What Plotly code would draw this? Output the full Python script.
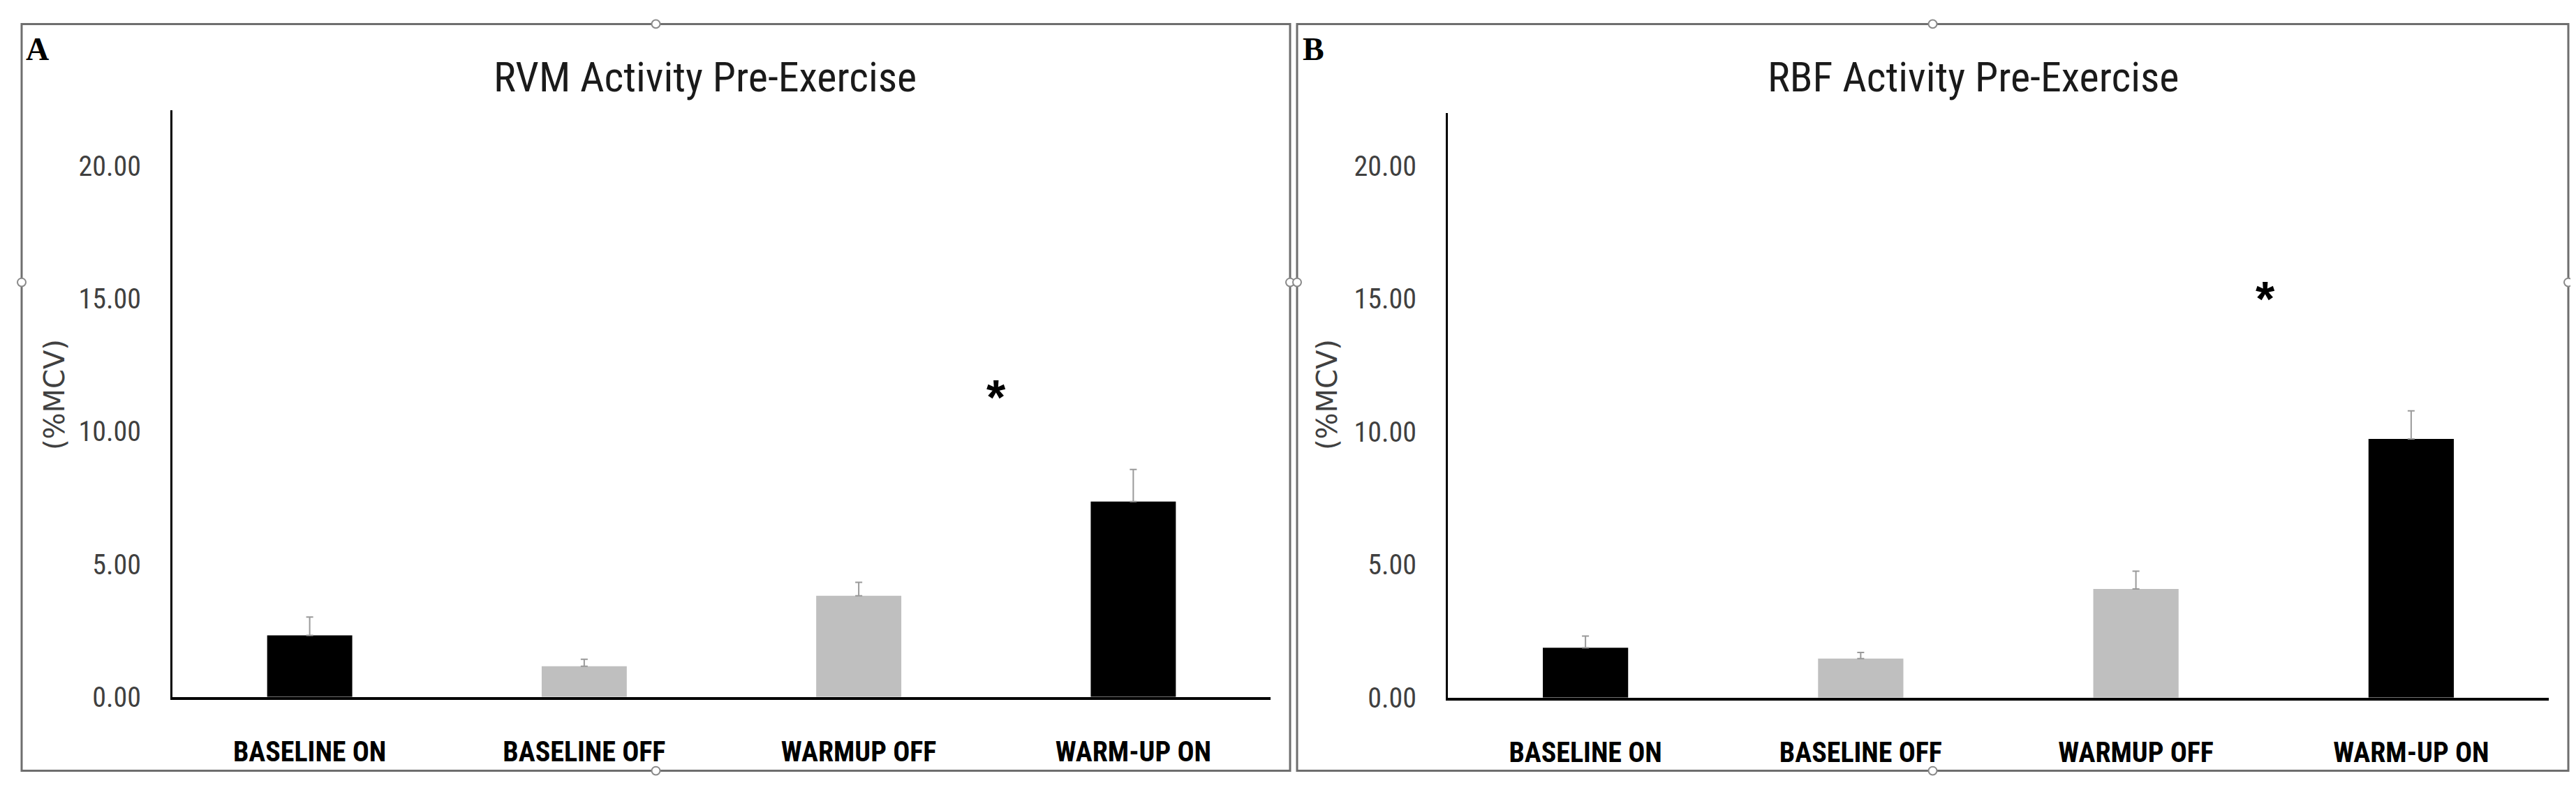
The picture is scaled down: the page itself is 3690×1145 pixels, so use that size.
import plotly.graph_objects as go

# ---- data ----
categories = ["BASELINE ON", "BASELINE OFF", "WARMUP OFF", "WARM-UP ON"]
rvm_means = [2.32, 1.16, 3.81, 7.36]
rvm_err = [0.69, 0.26, 0.51, 1.21]
rbf_means = [1.88, 1.47, 4.09, 9.73]
rbf_err = [0.44, 0.23, 0.67, 1.06]
bar_colors = ["#000000", "#bfbfbf", "#bfbfbf", "#000000"]
y_ticks = [0, 5, 10, 15, 20]
titles = ["RVM Activity Pre-Exercise", "RBF Activity Pre-Exercise"]
panel_letters = ["A", "B"]
y_label = "(%MCV)"
sig_x = [2.5, 2.47]
sig_y = [11.7, 15.4]

W, H = 3690, 1145
NARROW = "Roboto Condensed, Liberation Sans Narrow, DejaVu Sans Condensed, Roboto, sans-serif"

fig = go.Figure()
for i, (means, err) in enumerate([(rvm_means, rvm_err), (rbf_means, rbf_err)]):
    sfx = "" if i == 0 else str(i + 1)
    fig.add_trace(go.Bar(
        x=categories, y=means, width=0.31,
        marker=dict(color=bar_colors, line=dict(width=0)),
        error_y=dict(type="data", array=err, arrayminus=[0] * len(err),
                     symmetric=False, color="#9a9a9a", thickness=2, width=5),
        xaxis="x" + sfx, yaxis="y" + sfx, showlegend=False,
    ))

def px_x(p):
    return p / W

def px_y(p):
    return (H - p) / H

axis_common_x = dict(
    type="category", showline=True, linecolor="#000000", linewidth=4,
    showgrid=False, zeroline=False, ticks="outside", ticklen=40,
    tickcolor="rgba(0,0,0,0)",
    tickfont=dict(family=NARROW, size=40, color="#000000", weight="bold"),
    range=[-0.5, 3.5],
)
axis_common_y = dict(
    showline=True, linecolor="#000000", linewidth=3, showgrid=False,
    zeroline=False, tickvals=y_ticks, tickformat=".2f", ticks="outside",
    ticklen=34, tickcolor="rgba(0,0,0,0)",
    tickfont=dict(family=NARROW, size=40, color="#404040"),
)

fig.update_layout(
    width=W, height=H, margin=dict(l=0, r=0, t=0, b=0),
    paper_bgcolor="white", plot_bgcolor="white",
    xaxis=dict(axis_common_x, domain=[px_x(239), px_x(1812)], anchor="y"),
    yaxis=dict(axis_common_y, domain=[px_y(1012), px_y(153)], range=[0, 22.1], anchor="x"),
    xaxis2=dict(axis_common_x, domain=[px_x(2066), px_x(3643)], anchor="y2"),
    yaxis2=dict(axis_common_y, domain=[px_y(1013), px_y(157)], range=[0, 22.0], anchor="x2"),
)

# panel frames
frames = [(23, 1840), (1850, 3671)]
frame_top, frame_bottom, handle_y = 27, 1120, 405
shapes = []
for (l, r) in frames:
    shapes.append(dict(type="rect", xref="paper", yref="paper", x0=px_x(l), x1=px_x(r),
                       y0=px_y(frame_bottom), y1=px_y(frame_top),
                       line=dict(color="#6e6e6e", width=3)))
for (l, r) in frames:
    mid = (l + r) / 2
    for (hx, hy) in [(mid, frame_top), (mid, frame_bottom), (l, handle_y), (r, handle_y)]:
        shapes.append(dict(type="circle", xref="paper", yref="paper",
                           x0=px_x(hx - 6), x1=px_x(hx + 6), y0=px_y(hy + 6), y1=px_y(hy - 6),
                           fillcolor="white", line=dict(color="#8a8a8a", width=2)))
fig.update_layout(shapes=shapes)

ann = []
title_x = [1002, 2818]
letter_x = [45, 1873]
ylab_x = [70, 1893]
for i in range(2):
    sfx = "" if i == 0 else str(i + 1)
    ann.append(dict(text=titles[i], xref="paper", yref="paper", x=px_x(title_x[i]),
                    y=px_y(105), xanchor="center", yanchor="middle", showarrow=False,
                    font=dict(family=NARROW, size=60, color="#1a1a1a")))
    ann.append(dict(text="<b>" + panel_letters[i] + "</b>", xref="paper", yref="paper",
                    x=px_x(letter_x[i]), y=px_y(64), xanchor="center", yanchor="middle",
                    showarrow=False,
                    font=dict(family="Liberation Serif, DejaVu Serif, serif", size=46, color="#000000")))
    ann.append(dict(text=y_label, xref="paper", yref="paper", x=px_x(ylab_x[i]),
                    y=px_y(570), xanchor="center", yanchor="middle", showarrow=False,
                    textangle=-90,
                    font=dict(family="DejaVu Sans, Verdana, sans-serif", size=40, color="#404040")))
    ann.append(dict(text="<b>*</b>", xref="x" + sfx, yref="y" + sfx, x=sig_x[i], y=sig_y[i],
                    xanchor="center", yanchor="middle", showarrow=False, yshift=-16,
                    font=dict(family="Liberation Sans, Arial, sans-serif", size=70, color="#000000")))
fig.update_layout(annotations=ann)

fig.write_html("out.html")
